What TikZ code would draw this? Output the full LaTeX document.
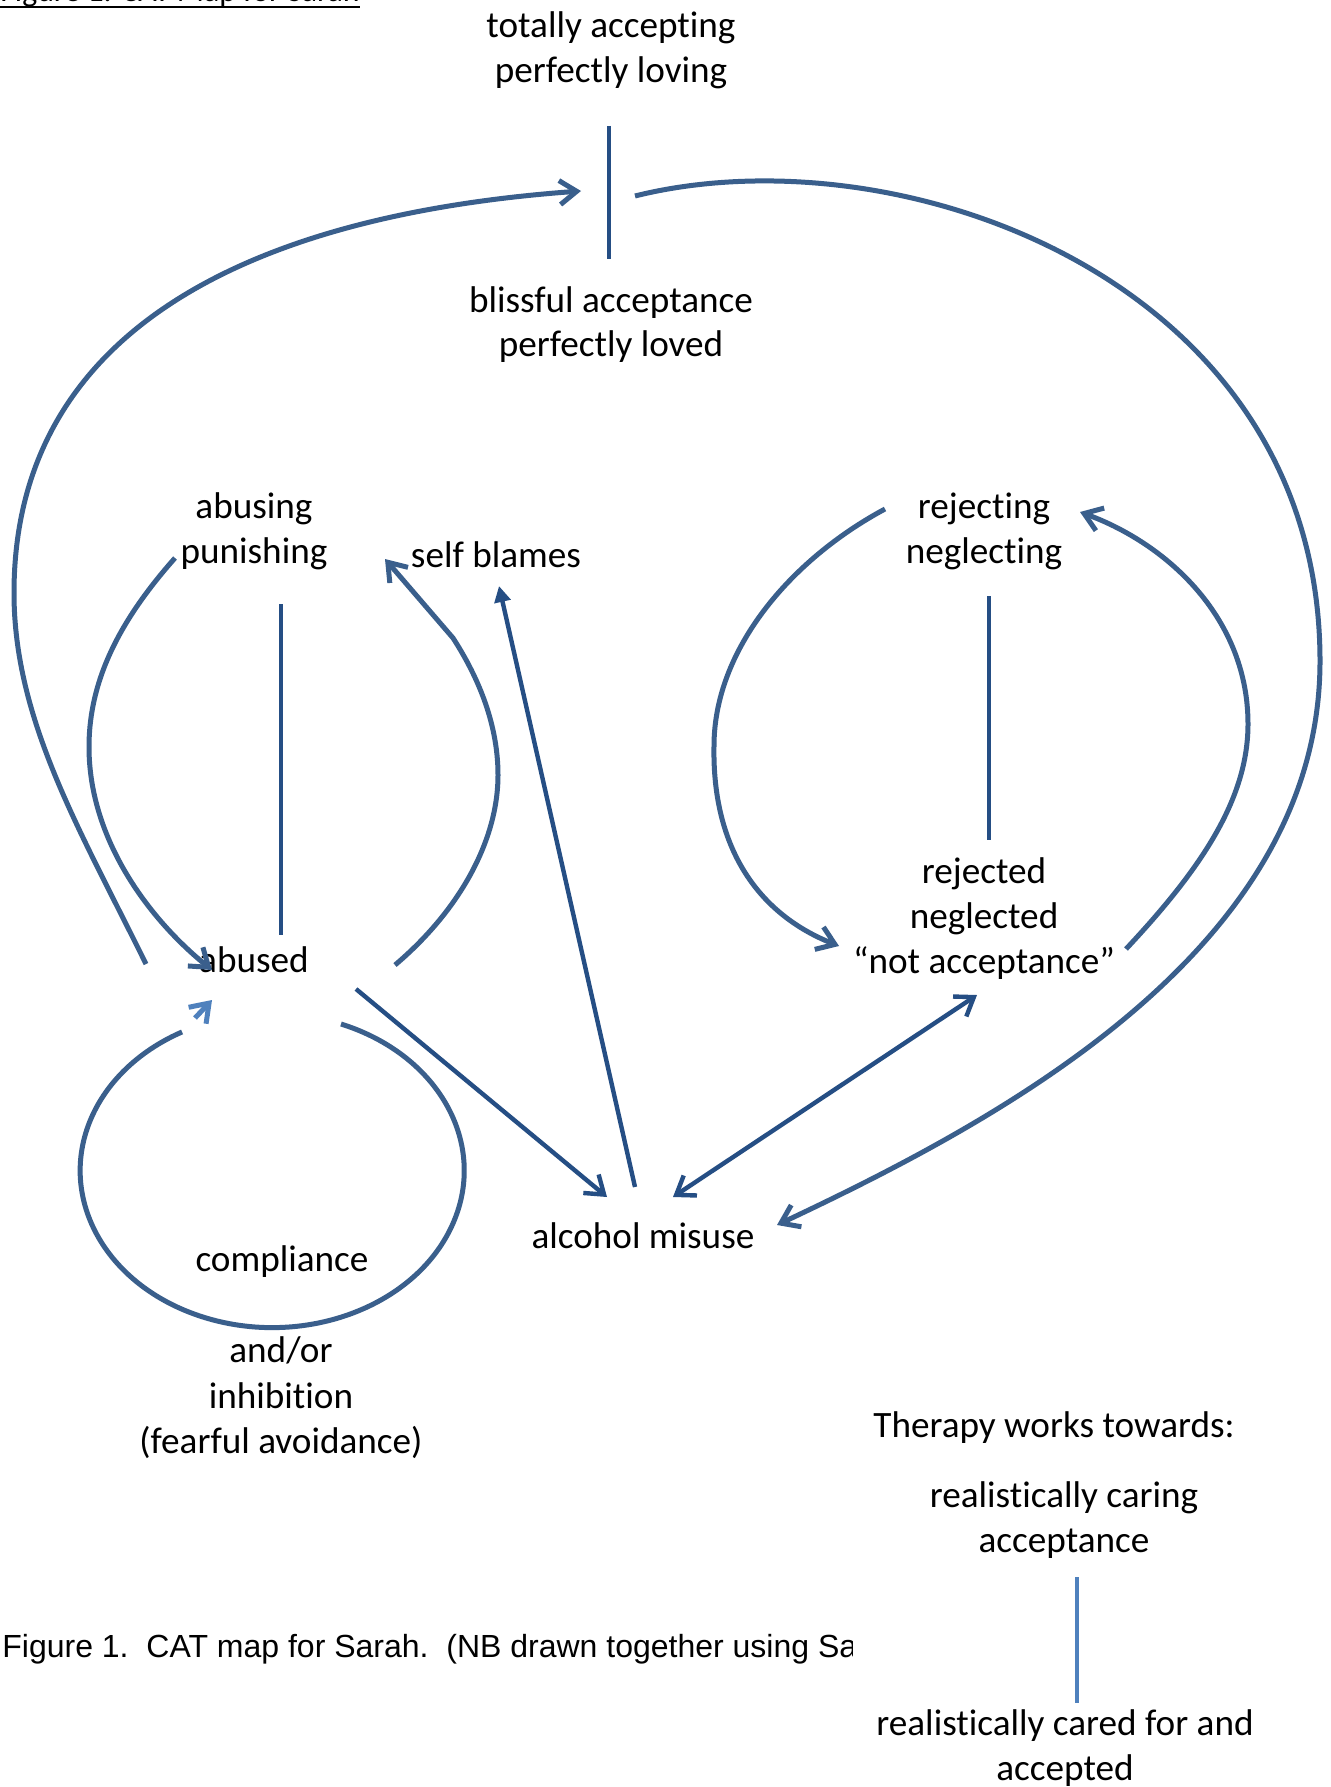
\documentclass[tikz,border=0pt]{standalone}
\usepackage{fontspec}
\setmainfont[Ligatures=NoCommon]{Carlito}
\newfontfamily\capfont{Liberation Sans}
\usetikzlibrary{arrows.meta}
\definecolor{curveblue}{HTML}{3A5F8C}
\definecolor{lineblue}{HTML}{254E84}
\definecolor{lightblue}{HTML}{4F81BD}
\newcommand\myunderline[1]{\setbox0=\hbox{#1}\rlap{\rule[-3.2pt]{\wd0}{1pt}}\box0}
\begin{document}
\begin{tikzpicture}[x=0.5pt,y=-0.5pt,
  lbl/.style={font=\fontsize{18.6}{22.5}\selectfont, anchor=base, inner sep=0pt},
  ttl/.style={font=\fontsize{15.9}{19}\selectfont, anchor=base west, inner sep=0pt},
  capt/.style={font=\capfont\fontsize{16}{19}\selectfont, anchor=base west, inner sep=0pt},
  curve/.style={draw=curveblue, line width=2.5pt},
  sline/.style={draw=lineblue, line width=2.2pt},
  openhead/.style={-{Straight Barb[length=8.5pt,width=12pt]}},
  bothheads/.style={{Straight Barb[length=8.5pt,width=12pt]}-{Straight Barb[length=8.5pt,width=12pt]}},
  solidhead/.style={-{Triangle[length=8pt,width=8pt]}}
]
\useasboundingbox (0,0) rectangle (1331,1787);
\fill[white] (0,0) rectangle (1331,1787);

% title (cut off at the top)
\node[ttl] (title) at (0,2) {\myunderline{Figure 1. CAT Map for Sarah}};

% labels
\node[lbl] (ta1) at (611,38) {totally accepting};
\node[lbl] (ta2) at (611,83) {perfectly loving};
\node[lbl] (ba1) at (611,312) {blissful acceptance};
\node[lbl] (ba2) at (611,356) {perfectly loved};
\node[lbl] (ab1) at (254,518) {abusing};
\node[lbl] (ab2) at (254,563) {punishing};
\node[lbl] (sb) at (496,567) {self blames};
\node[lbl] (rj1) at (984,518) {rejecting};
\node[lbl] (rj2) at (984,563) {neglecting};
\node[lbl] (rd1) at (984,883) {rejected};
\node[lbl] (rd2) at (984,928) {neglected};
\node[lbl] (rd3) at (984,973) {“not acceptance”};
\node[lbl] (abd) at (254,972) {abused};
\node[lbl] (alc) at (643,1248) {alcohol misuse};
\node[lbl] (comp) at (282,1271) {compliance};
\node[lbl] (ao1) at (281,1362) {and/or};
\node[lbl] (ao2) at (281,1408) {inhibition};
\node[lbl] (ao3) at (281,1453) {(fearful avoidance)};
\node[lbl] (th) at (1054,1437) {Therapy works towards:};
\node[lbl] (rc1) at (1064,1507) {realistically caring};
\node[lbl] (rc2) at (1064,1552) {acceptance};
\node[lbl] (rf1) at (1065,1735) {realistically cared for and};
\node[lbl] (rf2) at (1065,1780) {accepted};

% caption (cut off on the right)
\begin{scope}
  \clip (0,1600) rectangle (852,1700);
  \node[capt] (cap) at (2,1657) {Figure 1.\ \ CAT map for Sarah.\ \ (NB drawn together using Sa};
\end{scope}

% connector end points
\coordinate (topU) at (609,126);
\coordinate (topD) at (609,259);
\coordinate (apU) at (281,604);
\coordinate (apD) at (281,935);
\coordinate (rnU) at (989,596);
\coordinate (rnD) at (989,840);
\coordinate (thU) at (1077,1577);
\coordinate (thD) at (1077,1703);
\coordinate (bigLs) at (146,964);
\coordinate (bigLe) at (581,191);
\coordinate (bigRs) at (635,196);
\coordinate (bigRe) at (777,1225);
\coordinate (pinS) at (175,558);
\coordinate (pinE) at (212,970);
\coordinate (sbS) at (395,965);
\coordinate (sbK) at (453,638);
\coordinate (sbE) at (385,559);
\coordinate (rjS) at (885,509);
\coordinate (rjE) at (839,946);
\coordinate (naS) at (1126,949);
\coordinate (naE) at (1080,512);
\coordinate (abAl) at (356,989);
\coordinate (alAb) at (607,1197);
\coordinate (alSbS) at (635,1187);
\coordinate (alSbE) at (499,586);
\coordinate (dblA) at (673,1197);
\coordinate (dblB) at (977,995);
\coordinate (cmpS) at (341,1024);
\coordinate (smS) at (195,1018);
\coordinate (smE) at (212,1000);

% vertical lines
\draw[sline] (topU) -- (topD);
\draw[sline] (apU) -- (apD);
\draw[sline] (rnU) -- (rnD);
\draw[draw=lightblue, line width=2.2pt] (thU) -- (thD);

% big left arc to top
\draw[curve, openhead] (bigLs) .. controls (80,830) and (14,720) .. (14,593)
  .. controls (14,330) and (250,215) .. (bigLe);
% big right arc to alcohol misuse
\draw[curve, openhead] (bigRs) .. controls (900,130) and (1320,280) .. (1320,661)
  .. controls (1320,950) and (1000,1120) .. (bigRe);
% punishing -> abused
\draw[curve, openhead] (pinS) .. controls (120,620) and (89,680) .. (89,747)
  .. controls (89,840) and (150,920) .. (pinE);
% abused -> self blames
\draw[curve, openhead] (sbS) .. controls (460,910) and (498,840) .. (498,775)
  .. controls (498,720) and (475,672) .. (sbK) -- (sbE);
% rejecting -> rejected
\draw[curve, openhead] (rjS) .. controls (790,560) and (714,650) .. (714,746)
  .. controls (712,850) and (760,915) .. (rjE);
% not acceptance -> rejecting
\draw[curve, openhead] (naS) .. controls (1200,870) and (1248,800) .. (1248,724)
  .. controls (1248,620) and (1170,545) .. (naE);
% straight connectors
\draw[sline, openhead] (abAl) -- (alAb);
\draw[sline, solidhead] (alSbS) -- (alSbE);
\draw[sline, bothheads] (dblA) -- (dblB);
% compliance loop
\draw[curve] (cmpS) arc[start angle=-69, end angle=242, x radius=192, y radius=157];
\draw[draw=lightblue, line width=2.5pt, openhead] (smS) -- (smE);
\end{tikzpicture}
\end{document}
